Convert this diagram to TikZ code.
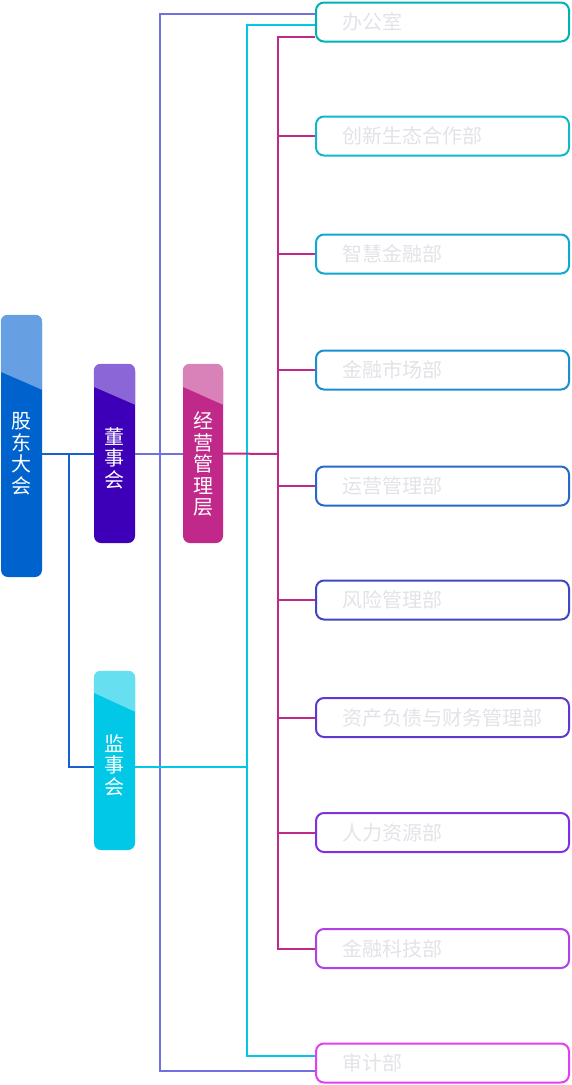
\documentclass[tikz,border=0pt]{standalone}
\usepackage{fontspec}
\usepackage{tikz}
\usepackage{xcolor}
\newfontfamily\cjk{Noto Sans CJK SC}
\definecolor{gdmain}{HTML}{0062CC}
\definecolor{gdlight}{HTML}{66A0E2}
\definecolor{dsmain}{HTML}{3D00B8}
\definecolor{dslight}{HTML}{8A66D6}
\definecolor{jymain}{HTML}{C0288A}
\definecolor{jylight}{HTML}{D981B9}
\definecolor{jsmain}{HTML}{00C8E6}
\definecolor{jslight}{HTML}{66DFF0}
\definecolor{blueline}{HTML}{1A5FD0}
\definecolor{purpleline}{HTML}{7070E0}
\definecolor{deptgray}{HTML}{E2E2E8}
\tikzset{lbox/.style={rounded corners=7pt, minimum width=41pt, minimum height=179pt, inner sep=0pt},
 ltext/.style={font=\cjk\fontsize{20}{21.5}\selectfont, text=white, text width=22pt, align=center, inner sep=0pt,
   execute at begin node={\setlength{\baselineskip}{21.5pt}}},
 dept/.style={draw, line width=2pt, rounded corners=8pt, minimum height=39pt,
   text width=200pt, inner xsep=26.5pt, inner ysep=0pt,
   font=\cjk\fontsize{20}{24}\selectfont, text=deptgray},
 link/.style={line width=2pt},
 }

\begin{document}
\begin{tikzpicture}[x=1pt,y=-1pt]
        \useasboundingbox (0,0) rectangle (572,1085);
        % left column
        \node[lbox, fill=gdmain, minimum height=262pt] (gd) at (21.5,446) {};
        \node[lbox, fill=dsmain] (ds) at (114.5,453.5) {};
        \node[lbox, fill=jymain, minimum width=40pt] (jy) at (203,453.5) {};
        \node[lbox, fill=jsmain] (js) at (114.5,760.5) {};
        \begin{scope}
            \clip[rounded corners=7pt] (gd.south west) rectangle (gd.north east);
            \fill[gdlight] (gd.north west) -- (gd.north east) -- ([yshift=-75pt]gd.north east) -- ([yshift=-57pt]gd.north west) -- cycle;
        \end{scope}
        \begin{scope}
            \clip[rounded corners=7pt] (ds.south west) rectangle (ds.north east);
            \fill[dslight] (ds.north west) -- (ds.north east) -- ([yshift=-41pt]ds.north east) -- ([yshift=-23pt]ds.north west) -- cycle;
        \end{scope}
        \begin{scope}
            \clip[rounded corners=7pt] (jy.south west) rectangle (jy.north east);
            \fill[jylight] (jy.north west) -- (jy.north east) -- ([yshift=-41pt]jy.north east) -- ([yshift=-23pt]jy.north west) -- cycle;
        \end{scope}
        \begin{scope}
            \clip[rounded corners=7pt] (js.south west) rectangle (js.north east);
            \fill[jslight] (js.north west) -- (js.north east) -- ([yshift=-41pt]js.north east) -- ([yshift=-22pt]js.north west) -- cycle;
        \end{scope}
        \node[ltext] (gdt) at (21.5,454) {股\\东\\大\\会};
        \node[ltext] (dst) at (114.5,458) {董\\事\\会};
        \node[ltext] (jyt) at (203,464) {经\\营\\管\\理\\层};
        \node[ltext] (jst) at (114.5,765) {监\\事\\会};

        % departments
        \node[dept, draw=teal!60!cyan] (d1) at (442.5,22) {办公室};
        \node[dept, draw={rgb,255:red,16;green,184;blue,200}] (d2) at (442.5,136) {创新生态合作部};
        \node[dept, draw={rgb,255:red,16;green,168;blue,204}] (d3) at (442.5,254) {智慧金融部};
        \node[dept, draw={rgb,255:red,24;green,144;blue,208}] (d4) at (442.5,370) {金融市场部};
        \node[dept, draw={rgb,255:red,40;green,104;blue,200}] (d5) at (442.5,486) {运营管理部};
        \node[dept, draw={rgb,255:red,64;green,72;blue,192}] (d6) at (442.5,600) {风险管理部};
        \node[dept, draw={rgb,255:red,96;green,56;blue,208}] (d7) at (442.5,717.5) {资产负债与财务管理部};
        \node[dept, draw={rgb,255:red,128;green,48;blue,224}] (d8) at (442.5,832.5) {人力资源部};
        \node[dept, draw={rgb,255:red,176;green,64;blue,232}] (d9) at (442.5,948.5) {金融科技部};
        \node[dept, draw={rgb,255:red,224;green,64;blue,240}] (d10) at (442.5,1063) {审计部};

        \coordinate (btrunk) at (69,454);
        \coordinate (ptrunk) at (160,454);
        \coordinate (ctrunk) at (247,767);
        \coordinate (mtrunk) at (278,454);

        % shareholders
        \draw[link, blueline] (gd.east |- ds.west) -- (ds.west);
        \draw[link, blueline] (btrunk) |- ([yshift=-6.5pt]js.west);
        % board
        \draw[link, purpleline] (ds.east) -- (jy.west);
        \draw[link, purpleline] (ptrunk) |- ([yshift=8pt]d1.west);
        \draw[link, purpleline] (ptrunk) |- ([yshift=-8pt]d10.west);
        % supervisors
        \draw[link, jsmain] ([yshift=-6.5pt]js.east) -- (ctrunk);
        \draw[link, jsmain] (ctrunk) |- ([yshift=-3pt]d1.west);
        \draw[link, jsmain] (ctrunk) |- ([yshift=7pt]d10.west);
        % management
        \draw[link, jymain] (jy.east) -- (mtrunk);
        \draw[link, jymain] (mtrunk) |- ([yshift=-15pt]d1.west);
        \draw[link, jymain] (mtrunk) |- (d2.west);
        \draw[link, jymain] (mtrunk) |- (d3.west);
        \draw[link, jymain] (mtrunk) |- (d4.west);
        \draw[link, jymain] (mtrunk) |- (d5.west);
        \draw[link, jymain] (mtrunk) |- (d6.west);
        \draw[link, jymain] (mtrunk) |- (d7.west);
        \draw[link, jymain] (mtrunk) |- (d8.west);
        \draw[link, jymain] (mtrunk) |- (d9.west);
    \end{tikzpicture}
\end{document}
